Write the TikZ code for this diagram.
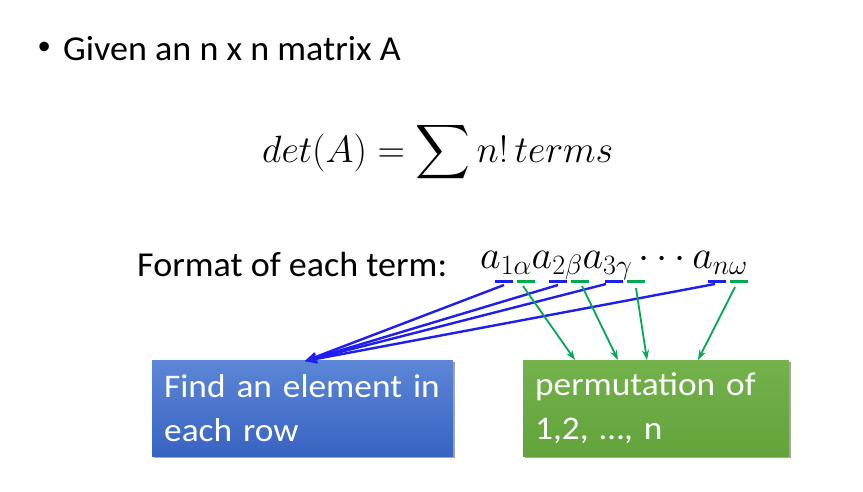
\RequirePackage{fix-cm}
\documentclass[tikz,border=0pt]{standalone}
\usepackage{amsmath}
\DeclareFontShape{OMX}{cmex}{m}{n}{<-> cmex10}{}
\usepackage{fontspec}
\setmainfont{Carlito}
\newfontfamily\headfont[FakeStretch=1.03]{Carlito}
\newfontfamily\boxfont[FakeStretch=1.07]{Carlito}
\usetikzlibrary{arrows.meta,shadows,calc}
\definecolor{bluetop}{RGB}{92,134,214}
\definecolor{bluebot}{RGB}{56,100,194}
\definecolor{greentop}{RGB}{116,178,76}
\definecolor{greenbot}{RGB}{98,163,58}
\definecolor{lineblue}{RGB}{30,30,240}
\definecolor{linegreen}{RGB}{0,170,80}
\begin{document}
\begin{tikzpicture}[x=1pt,y=-1pt,
  bigtxt/.style={font=\headfont\fontsize{35}{42}\selectfont, inner sep=0pt},
  boxstyle/.style={anchor=north west, minimum height=96pt, inner xsep=12pt, inner ysep=0pt,
    align=left, text=white, font=\boxfont\fontsize{33}{44}\selectfont,
    drop shadow={shadow xshift=1.5pt, shadow yshift=-1.5pt, opacity=0.35, fill=black}},
  bluebox/.style={boxstyle, top color=bluetop, bottom color=bluebot, text width=277pt},
  greenbox/.style={boxstyle, top color=greentop, bottom color=greenbot, text width=242pt},
  bdash/.style={lineblue, line width=3pt},
  gdash/.style={linegreen, line width=3pt},
  barrow/.style={lineblue, line width=2.4pt, -{Stealth[length=12pt,width=10pt]}},
  garrow/.style={linegreen, line width=1.8pt, -{Stealth[length=10pt,width=7pt]}}]
\useasboundingbox (0,0) rectangle (863,491);
\fill[white] (0,0) rectangle (863,491);

\node[inner sep=0pt, font=\fontsize{35}{42}\selectfont, anchor=base west] (bullet) at (38,58) {\fontspec{Liberation Sans}•};
\node[bigtxt, anchor=base west] (given) at (63,60) {Given an n x n matrix A};

\node[anchor=base west, inner sep=0pt, font=\fontsize{38}{44}\selectfont] (det) at (262,162)
  {$\displaystyle det(A)=\sum n!\,terms$};

\node[bigtxt, anchor=base west] (format) at (137,276) {Format of each term:};
\node[anchor=base west, inner sep=0pt, font=\fontsize{40}{44}\selectfont] (term) at (480,268)
  {$a_{1\alpha}a_{2\beta}a_{3\gamma}\cdots a_{n\omega}$};

% dash centres
\coordinate (b1) at (504,281);
\coordinate (g1) at (526,281);
\coordinate (b2) at (558,281);
\coordinate (g2) at (580,281);
\coordinate (b3) at (614,281);
\coordinate (g3) at (636,281);
\coordinate (b4) at (717,281);
\coordinate (g4) at (739,281);
\foreach \c in {b1,b2,b3,b4} \draw[bdash] ($(\c)+(-9,0)$) -- ($(\c)+(9,0)$);
\foreach \c in {g1,g2,g3,g4} \draw[gdash] ($(\c)+(-9,0)$) -- ($(\c)+(9,0)$);

\node[bluebox] (find) at (152,360) {\mbox{Find an element in}\\each row};
\node[greenbox] (perm) at (523,360) {\mbox{permutation of}\\1,2, …, n};

% blue connectors
\draw[barrow] ($(b1)+(0,4)$) -- ($(find.north west)+(153,1)$);
\draw[barrow] ($(b2)+(0,4)$) -- ($(find.north west)+(153,1)$);
\draw[barrow] ($(b3)+(-8,3)$) -- ($(find.north west)+(153,1)$);
\draw[barrow] ($(b4)+(-2,3)$) -- ($(find.north west)+(153,1)$);
% green connectors
\draw[garrow] ($(g1)+(-3,5)$) -- ($(perm.north west)+(52,0)$);
\draw[garrow] ($(g2)+(2,5)$) -- ($(perm.north west)+(95,0)$);
\draw[garrow] ($(g3)+(0,7)$) -- ($(perm.north west)+(124,0)$);
\draw[garrow] ($(g4)+(-4,6)$) -- ($(perm.north west)+(175,0)$);
\end{tikzpicture}
\end{document}
